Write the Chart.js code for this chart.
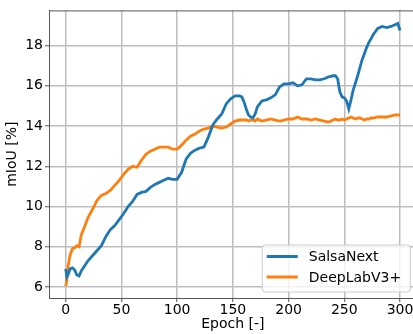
<!DOCTYPE html>
<html>
<head>
<meta charset="utf-8">
<script src="https://cdn.jsdelivr.net/npm/chart.js@4/dist/chart.umd.min.js"></script>
<style>
  html, body { margin: 0; padding: 0; background: #fff; overflow: hidden; }
  canvas { display: block; }
</style>
</head>
<body>
<canvas id="chart" width="420" height="334"></canvas>
<script>
// epochs where the curves were sampled
const epochs = [0, 1, 2, 4, 6, 8, 10, 12, 14, 17, 20, 24, 28, 32, 36, 40, 44, 48, 52, 56,
  60, 64, 68, 72, 76, 80, 84, 88, 92, 96, 100, 104, 108, 112, 116, 120, 124, 128, 132, 136,
  140, 144, 148, 152, 156, 158, 160, 162, 164, 166, 168, 170, 172, 176, 180, 184, 188, 192, 196, 200,
  204, 208, 212, 216, 220, 224, 228, 232, 236, 240, 242, 244, 246, 248, 250, 252, 254, 256, 258, 260,
  262, 264, 266, 268, 270, 272, 274, 276, 280, 284, 288, 292, 296, 298, 300]

const salsaNext = [6.9, 6.5, 6.6, 6.9, 6.95, 6.85, 6.6, 6.55, 6.8, 7.05, 7.3, 7.55, 7.8, 8.05, 8.5, 8.85, 9.05, 9.35, 9.65, 10.0,
  10.25, 10.6, 10.7, 10.75, 10.95, 11.1, 11.2, 11.3, 11.4, 11.35, 11.35, 11.7, 12.35, 12.65, 12.8, 12.9, 12.95, 13.45, 14.05, 14.35,
  14.6, 15.1, 15.35, 15.5, 15.5, 15.45, 15.2, 14.85, 14.55, 14.45, 14.4, 14.6, 14.95, 15.25, 15.3, 15.4, 15.55, 15.95, 16.1, 16.1,
  16.15, 16.0, 16.05, 16.35, 16.35, 16.3, 16.3, 16.35, 16.45, 16.5, 16.5, 16.35, 15.7, 15.45, 15.4, 15.25, 14.85, 15.3, 15.8, 16.15,
  16.5, 16.9, 17.3, 17.6, 17.9, 18.15, 18.35, 18.55, 18.85, 18.95, 18.9, 18.95, 19.05, 19.1, 18.75]

const deepLab = [6.05, 6.3, 7.0, 7.6, 7.9, 7.95, 8.05, 8.0, 8.6, 9.0, 9.45, 9.85, 10.3, 10.55, 10.65, 10.8, 11.05, 11.3, 11.6, 11.85,
  12.0, 11.95, 12.3, 12.6, 12.75, 12.85, 12.95, 12.95, 12.95, 12.85, 12.85, 13.05, 13.3, 13.5, 13.6, 13.75, 13.85, 13.9, 14.0, 13.95,
  13.9, 13.95, 14.1, 14.25, 14.3, 14.3, 14.3, 14.3, 14.25, 14.3, 14.3, 14.25, 14.35, 14.25, 14.3, 14.35, 14.3, 14.25, 14.3, 14.35,
  14.35, 14.45, 14.35, 14.35, 14.3, 14.35, 14.3, 14.25, 14.2, 14.3, 14.35, 14.3, 14.3, 14.35, 14.3, 14.35, 14.4, 14.45, 14.4, 14.35,
  14.4, 14.4, 14.35, 14.3, 14.35, 14.35, 14.4, 14.4, 14.45, 14.45, 14.45, 14.5, 14.55, 14.55, 14.55]

const seriesNames = ["SalsaNext", "DeepLabV3+"]
const xTickValues = [0, 50, 100, 150, 200, 250, 300]
const yTickValues = [6, 8, 10, 12, 14, 16, 18]

const FONT = "'DejaVu Sans', sans-serif"

const toPoints = (values) => values.map((v, i) => ({ x: epochs[i], y: v }))

// matplotlib style legend inside the axes, lower right
const innerLegend = {
  id: "innerLegend",
  afterDraw(chart) {
    const { ctx, chartArea } = chart
    const boxW = 148
    const boxH = 47
    const right = chartArea.right - 7
    const bottom = chartArea.bottom - 6.5
    const left = right - boxW
    const top = bottom - boxH

    ctx.save()
    // top spine
    ctx.strokeStyle = "#555"
    ctx.lineWidth = 1
    ctx.beginPath()
    ctx.moveTo(chartArea.left, chartArea.top + 0.5)
    ctx.lineTo(chartArea.right, chartArea.top + 0.5)
    ctx.stroke()

    ctx.fillStyle = "rgba(255,255,255,0.8)"
    ctx.strokeStyle = "#cccccc"
    ctx.beginPath()
    ctx.roundRect(left + 0.5, top + 0.5, boxW, boxH, 3)
    ctx.fill()
    ctx.stroke()

    ctx.font = "14px " + FONT
    ctx.textBaseline = "middle"
    chart.data.datasets.forEach((ds, i) => {
      const y = top + 12 + i * 20.5
      ctx.strokeStyle = ds.borderColor
      ctx.lineWidth = 3
      ctx.beginPath()
      ctx.moveTo(left + 5, y)
      ctx.lineTo(left + 36, y)
      ctx.stroke()
      ctx.fillStyle = "#000"
      ctx.fillText(ds.label, left + 47, y + 1)
    })
    ctx.restore()
  },
}

const ctx = document.getElementById("chart").getContext("2d")

new Chart(ctx, {
  type: "line",
  data: {
    datasets: [
      {
        label: seriesNames[0],
        data: toPoints(salsaNext),
        borderColor: "#1f77b4",
        borderWidth: 2.8,
        pointRadius: 0,
        tension: 0,
      },
      {
        label: seriesNames[1],
        data: toPoints(deepLab),
        borderColor: "#ff7f0e",
        borderWidth: 2.8,
        pointRadius: 0,
        tension: 0,
      },
    ],
  },
  options: {
    responsive: false,
    animation: false,
    layout: { padding: { left: 0, top: 6, right: 3.25, bottom: 0 } },
    plugins: {
      legend: { display: false },
      tooltip: { enabled: false },
    },
    scales: {
      x: {
        type: "linear",
        min: -15,
        max: 315,
        afterBuildTicks: (scale) => {
          scale.ticks = xTickValues.map((v) => ({ value: v }))
        },
        afterFit: (scale) => {
          scale.height = 36
        },
        grid: { color: "#bdbdbd", lineWidth: 1.5, tickLength: 4, tickColor: "#555", tickWidth: 1 },
        border: { display: true, color: "#555", width: 1 },
        ticks: { color: "#000", font: { family: FONT, size: 14 }, padding: 0, maxRotation: 0 },
        title: {
          display: true,
          text: "Epoch [-]",
          color: "#000",
          font: { family: FONT, size: 14 },
          padding: { top: 0, bottom: 1 },
        },
      },
      y: {
        min: 5.45,
        max: 19.75,
        afterBuildTicks: (scale) => {
          scale.ticks = yTickValues.map((v) => ({ value: v }))
        },
        afterFit: (scale) => {
          scale.width = 49
        },
        grid: { color: "#bdbdbd", lineWidth: 1.5, tickLength: 4, tickColor: "#555", tickWidth: 1 },
        border: { display: true, color: "#555", width: 1 },
        ticks: { color: "#000", font: { family: FONT, size: 14 }, padding: 2 },
        title: {
          display: true,
          text: "mIoU [%]",
          color: "#000",
          font: { family: FONT, size: 14 },
          padding: { top: 3.5, bottom: 0 },
        },
      },
    },
  },
  plugins: [innerLegend],
})
</script>
</body>
</html>
